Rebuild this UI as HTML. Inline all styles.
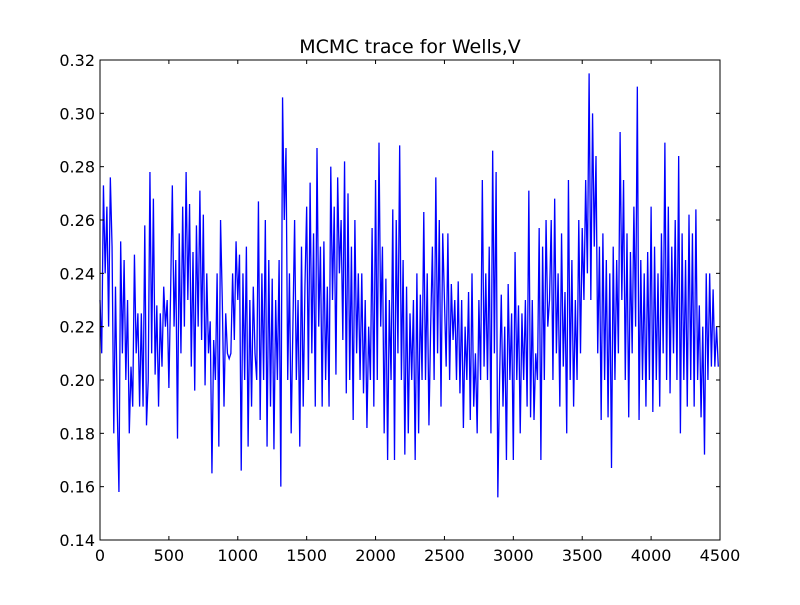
<!DOCTYPE html>
<html><head><meta charset="utf-8"><style>
body{margin:0;background:#fff;}
svg text{font-family:"DejaVu Sans","Liberation Sans",sans-serif;}
</style></head><body>
<svg id="chart" width="800" height="600" xmlns="http://www.w3.org/2000/svg">
<rect width="800" height="600" fill="#fff"/>
<text x="410" y="53" font-size="19" text-anchor="middle">MCMC trace for Wells,V</text>
<g id="plot"></g>
</svg>
<script>
const xTicks=[0,500,1000,1500,2000,2500,3000,3500,4000,4500];
const yTicks=[0.14,0.16,0.18,0.20,0.22,0.24,0.26,0.28,0.30,0.32];
const yTickLabels=["0.14","0.16","0.18","0.20","0.22","0.24","0.26","0.28","0.30","0.32"];
const stepSize=12.5;
const traceValues=[
0.23,0.21,0.273,0.24,0.265,0.22,0.276,0.25,
0.18,0.235,0.19,0.158,0.252,0.21,0.245,0.2,
0.23,0.18,0.205,0.19,0.247,0.21,0.225,0.19,
0.225,0.19,0.258,0.183,0.2,0.278,0.21,0.268,
0.202,0.228,0.19,0.225,0.205,0.235,0.22,0.23,
0.197,0.233,0.273,0.22,0.245,0.178,0.255,0.21,
0.265,0.22,0.278,0.23,0.266,0.205,0.248,0.196,
0.258,0.22,0.271,0.215,0.262,0.198,0.24,0.21,
0.222,0.165,0.215,0.2,0.24,0.175,0.26,0.23,
0.19,0.225,0.21,0.208,0.21,0.24,0.215,0.252,
0.23,0.247,0.166,0.24,0.2,0.25,0.175,0.23,
0.19,0.235,0.21,0.2,0.267,0.185,0.24,0.2,
0.26,0.175,0.245,0.19,0.238,0.174,0.23,0.2,
0.245,0.16,0.306,0.26,0.287,0.2,0.24,0.18,
0.22,0.26,0.2,0.23,0.175,0.25,0.19,0.235,
0.265,0.2,0.274,0.21,0.255,0.19,0.287,0.22,
0.25,0.19,0.252,0.2,0.235,0.19,0.28,0.23,
0.265,0.202,0.276,0.24,0.26,0.215,0.282,0.195,
0.27,0.2,0.25,0.185,0.26,0.21,0.24,0.2,
0.24,0.195,0.23,0.182,0.22,0.2,0.257,0.19,
0.275,0.2,0.289,0.22,0.25,0.18,0.238,0.17,
0.23,0.2,0.264,0.17,0.26,0.21,0.288,0.2,
0.245,0.172,0.235,0.18,0.225,0.2,0.23,0.17,
0.24,0.18,0.232,0.2,0.263,0.2,0.24,0.183,
0.22,0.25,0.2,0.276,0.21,0.26,0.19,0.255,
0.23,0.205,0.255,0.2,0.236,0.215,0.23,0.2,
0.237,0.195,0.23,0.182,0.22,0.2,0.233,0.185,
0.24,0.19,0.21,0.18,0.23,0.2,0.275,0.205,
0.24,0.2,0.25,0.18,0.286,0.21,0.278,0.156,
0.2,0.232,0.19,0.22,0.17,0.236,0.2,0.225,
0.17,0.248,0.2,0.228,0.18,0.225,0.2,0.23,
0.19,0.271,0.186,0.23,0.185,0.21,0.2,0.257,
0.17,0.25,0.2,0.26,0.22,0.23,0.26,0.2,
0.268,0.21,0.24,0.19,0.255,0.205,0.233,0.18,
0.275,0.2,0.245,0.19,0.23,0.2,0.26,0.21,
0.257,0.23,0.275,0.24,0.315,0.23,0.3,0.25,
0.284,0.21,0.25,0.185,0.255,0.2,0.245,0.186,
0.24,0.167,0.25,0.2,0.245,0.21,0.293,0.23,
0.275,0.2,0.255,0.186,0.248,0.21,0.265,0.22,
0.31,0.185,0.245,0.2,0.24,0.19,0.248,0.2,
0.265,0.188,0.25,0.2,0.24,0.19,0.255,0.21,
0.289,0.2,0.265,0.195,0.25,0.21,0.26,0.2,
0.284,0.18,0.255,0.2,0.245,0.19,0.262,0.2,
0.255,0.19,0.264,0.2,0.228,0.186,0.22,0.172,
0.24,0.2,0.24,0.205,0.234,0.205,0.22,0.205
];
const L=100,R=720,T=60,B=540,NS="http://www.w3.org/2000/svg";
const xMin=0,xMax=4500,yMin=0.14,yMax=0.32;
function xs(v){return L+(v-xMin)/(xMax-xMin)*(R-L);}
function ys(v){return B-(v-yMin)/(yMax-yMin)*(B-T);}
const g=document.getElementById('plot');
function mk(tag,attrs){const e=document.createElementNS(NS,tag);for(const k in attrs)e.setAttribute(k,attrs[k]);g.appendChild(e);return e;}
let d='';
traceValues.forEach((v,i)=>{d+=(i?'L':'M')+xs(i*stepSize).toFixed(2)+','+ys(v).toFixed(2);});
const line=mk('path',{d:d,fill:'none',stroke:'#0000ff','stroke-width':1.3});


const frame=mk('rect',{x:L,y:T,width:R-L,height:B-T,fill:'none',stroke:'#000','stroke-width':1});


xTicks.forEach(t=>{
  const x=xs(t);
  mk('line',{x1:x,x2:x,y1:B,y2:B-4,stroke:'#000'});
  mk('line',{x1:x,x2:x,y1:T,y2:T+4,stroke:'#000'});
  const tx=mk('text',{x:x,y:B+21,'font-size':16,'text-anchor':'middle'});
  tx.textContent=String(t);
  
  
});
yTicks.forEach((t,i)=>{
  const y=ys(t);
  mk('line',{x1:L,x2:L+4,y1:y,y2:y,stroke:'#000'});
  mk('line',{x1:R,x2:R-4,y1:y,y2:y,stroke:'#000'});
  const ty=mk('text',{x:L-5,y:y+6,'font-size':16,'text-anchor':'end'});
  ty.textContent=yTickLabels[i];
  
  
});
</script>
</body></html>
